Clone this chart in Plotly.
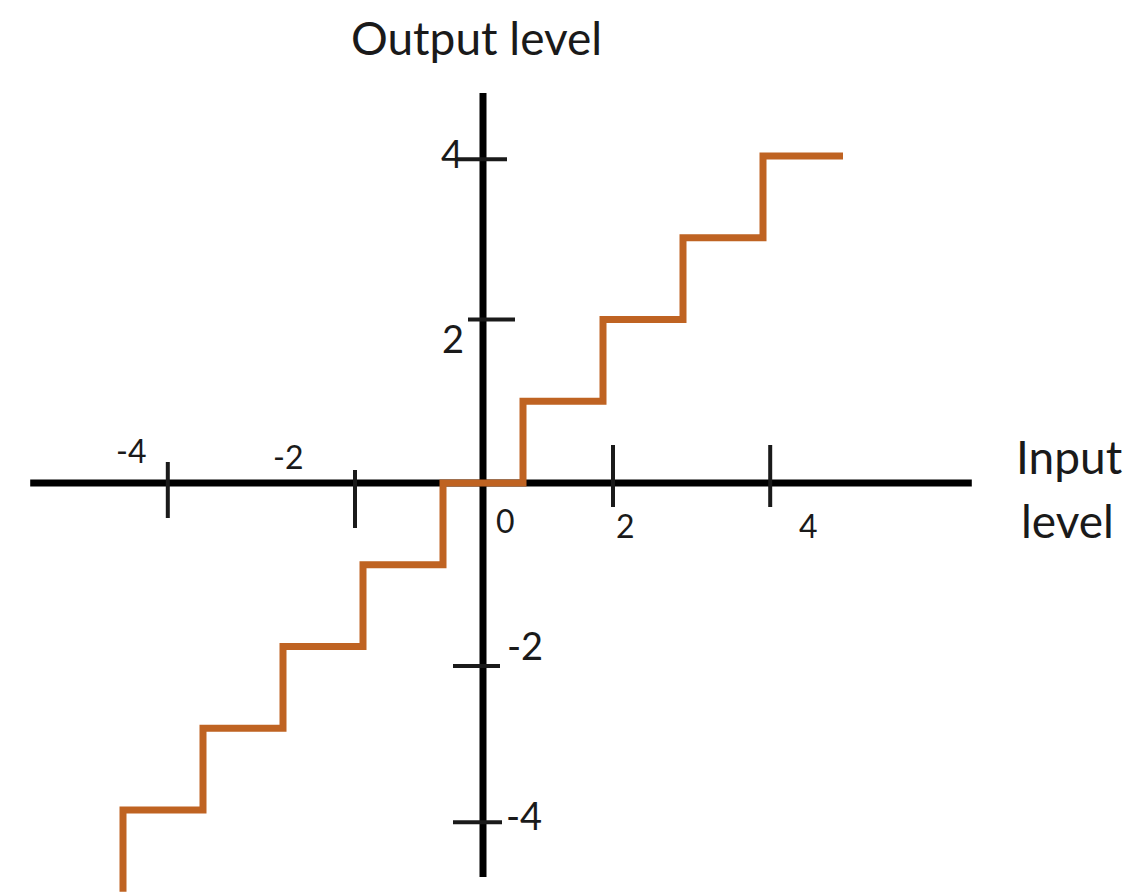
import plotly.graph_objects as go

# quantizer staircase: step edges on the input axis and the output level reached there
input_edges = [-4.5, -3.5, -2.5, -1.5, -0.5, 0.5, 1.5, 2.5, 3.5, 4.5]
output_levels = [-5, -4, -3, -2, -1, 0, 1, 2, 3, 4]

x_tick_labels = ["-4", "-2", "2", "4"]
y_tick_labels = ["4", "2", "-2", "-4"]

# hand-drawn picture: where the tick strokes actually sit (axis units)
x_tick_at = [-3.94, -1.6, 1.625, 3.59]
y_tick_at = [3.96, 2.0, -2.24, -4.15]

W, H = 1133, 892
PAD = 8                 # page body margin around the plot div
X0, XS = 483 - PAD, 80.0      # pixel of the origin (in the div), pixels per unit
Y0, YS = 483 - PAD, 81.75

INK = "#1a1a1a"
ORANGE = "#BF6322"
FONT = "Lato"


def px(x, y):
    """window pixel -> paper coords"""
    return (x - PAD) / W, 1 - (y - PAD) / H


fig = go.Figure()

fig.add_trace(go.Scatter(
    x=input_edges, y=output_levels,
    mode="lines", line=dict(color=ORANGE, width=7, shape="vh"),
    hoverinfo="skip", showlegend=False,
))

# axes
fig.add_shape(type="line", x0=-5.66, x1=6.11, y0=0, y1=0,
              line=dict(color="black", width=7), layer="below")
fig.add_shape(type="line", x0=0, x1=0, y0=-4.82, y1=4.77,
              line=dict(color="black", width=7), layer="below")

# tick strokes, pixel lengths (up, down) / (left, right)
x_tick_len = [(21, 35), (13, 45), (38, 24), (38, 24)]
y_tick_len = [(28, 24), (15, 32), (30, 17), (30, 19)]
for xv, (up, dn) in zip(x_tick_at, x_tick_len):
    fig.add_shape(type="line", x0=xv, x1=xv, ysizemode="pixel", yanchor=0,
                  y0=-dn, y1=up, line=dict(color=INK, width=4), layer="below")
for yv, (lf, rt) in zip(y_tick_at, y_tick_len):
    fig.add_shape(type="line", y0=yv, y1=yv, xsizemode="pixel", xanchor=0,
                  x0=-lf, x1=rt, line=dict(color=INK, width=4), layer="below")

# labels
x_lab_px = [(131, 450), (288, 457), (625, 525), (808, 525)]
y_lab_px = [(452, 153), (453, 338), (525, 645), (524, 815)]
texts = []
for t, (lx, ly) in zip(x_tick_labels, x_lab_px):
    texts.append((t, lx, ly, 32))
texts.append(("0", 505, 520, 32))
for t, (lx, ly) in zip(y_tick_labels, y_lab_px):
    texts.append((t, lx, ly, 38))
texts += [("Output level", 476, 38, 46), ("Input", 1069, 456, 46), ("level", 1067, 520, 46)]

for t, lx, ly, sz in texts:
    ax, ay = px(lx, ly)
    fig.add_annotation(text=t, x=ax, y=ay, xref="paper", yref="paper",
                       xanchor="center", yanchor="middle", showarrow=False,
                       font=dict(family=FONT, size=sz, color=INK))

fig.update_layout(
    width=W, height=H,
    margin=dict(l=0, r=0, t=0, b=0),
    paper_bgcolor="white", plot_bgcolor="white",
    xaxis=dict(range=[-X0 / XS, (W - X0) / XS], visible=False, fixedrange=True),
    yaxis=dict(range=[-(H - Y0) / YS, Y0 / YS], visible=False, fixedrange=True),
)

fig.write_html("out.html")
